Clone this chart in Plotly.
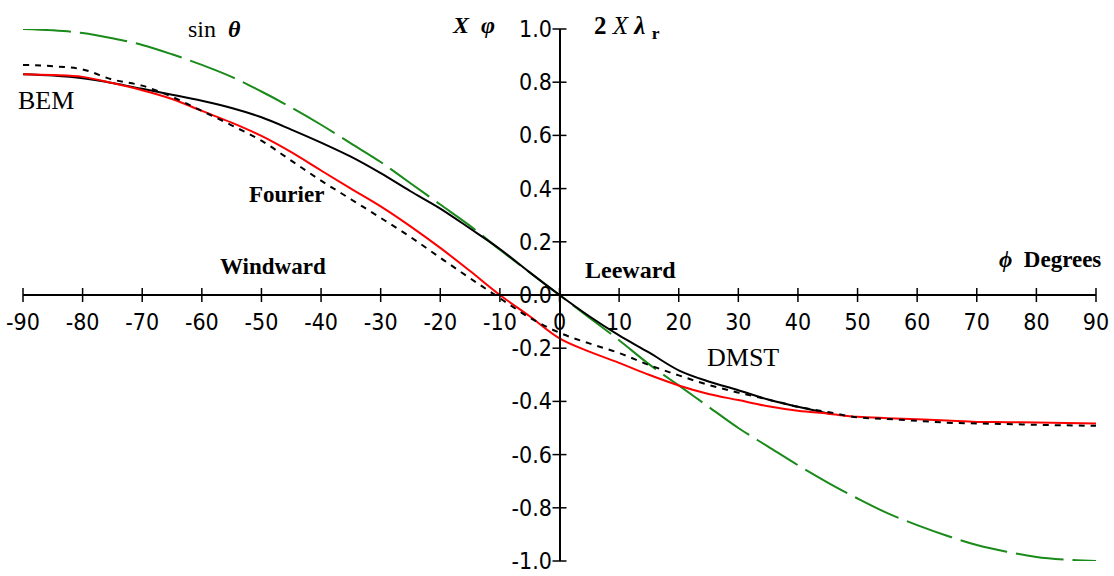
import plotly.graph_objects as go

# ---- data ----
phi = [-90, -85, -80, -75, -70, -65, -60, -55, -50, -45, -40, -35, -30, -25, -20, -15, -10, -5,
       0, 5, 10, 15, 20, 25, 30, 35, 40, 45, 50, 55, 60, 65, 70, 75, 80, 85, 90]

sin_theta = [1.00, 0.995, 0.985, 0.965, 0.94, 0.905, 0.865, 0.82, 0.765, 0.705, 0.64, 0.57, 0.50,
             0.42, 0.34, 0.26, 0.17, 0.085, 0.0, -0.085, -0.17, -0.26, -0.34, -0.42, -0.50, -0.57,
             -0.64, -0.705, -0.765, -0.82, -0.865, -0.905, -0.94, -0.965, -0.985, -0.995, -1.00]

bem = [0.83, 0.827, 0.82, 0.797, 0.77, 0.737, 0.692, 0.648, 0.598, 0.537, 0.468, 0.40, 0.333,
       0.258, 0.177, 0.09, 0.0, -0.08, -0.163, -0.213, -0.255, -0.300, -0.340, -0.372, -0.395,
       -0.418, -0.435, -0.446, -0.458, -0.463, -0.467, -0.472, -0.477, -0.478, -0.479, -0.481, -0.483]

fourier = [0.865, 0.86, 0.848, 0.81, 0.787, 0.745, 0.692, 0.638, 0.58, 0.505, 0.43, 0.36, 0.29,
           0.218, 0.14, 0.063, -0.012, -0.085, -0.142, -0.182, -0.218, -0.263, -0.302, -0.338,
           -0.367, -0.393, -0.42, -0.44, -0.46, -0.466, -0.473, -0.48, -0.483, -0.485, -0.488,
           -0.49, -0.492]

phi_dmst = [-90, -85, -80, -75, -70, -65, -60, -55, -50, -45, -40, -35, -30, -25, -20, -15, -10,
            -5, 0, 5, 10, 15, 20, 25, 30, 35, 40, 45]
dmst = [0.83, 0.825, 0.815, 0.797, 0.775, 0.753, 0.73, 0.703, 0.668, 0.622, 0.573, 0.52, 0.458,
        0.39, 0.325, 0.25, 0.173, 0.085, 0.0, -0.08, -0.152, -0.216, -0.283, -0.325, -0.358,
        -0.393, -0.42, -0.445]

x_ticks = [-90, -80, -70, -60, -50, -40, -30, -20, -10, 0, 10, 20, 30, 40, 50, 60, 70, 80, 90]
y_ticks = [-1.0, -0.8, -0.6, -0.4, -0.2, 0.0, 0.2, 0.4, 0.6, 0.8, 1.0]
x_tick_text = [str(v) for v in x_ticks]
y_tick_text = [f"{v:.1f}" for v in y_ticks]

SERIF = "Liberation Serif, Times New Roman, serif"
NARROW = "DejaVu Sans Condensed, Liberation Sans Narrow, Arial Narrow, sans-serif"

fig = go.Figure()

fig.add_trace(go.Scatter(x=phi, y=sin_theta, mode="lines", line=dict(color="#1a8a1a", width=2, dash="48px,9px", shape="spline"), name="sin θ"))
fig.add_trace(go.Scatter(x=phi_dmst, y=dmst, mode="lines", line=dict(color="black", width=2, shape="spline"), name="DMST"))
fig.add_trace(go.Scatter(x=phi, y=bem, mode="lines", line=dict(color="#ff0000", width=2, shape="spline"), name="BEM"))
fig.add_trace(go.Scatter(x=phi, y=fourier, mode="lines", line=dict(color="black", width=2, dash="6px,6px", shape="spline"), name="Fourier"))

# crossing tick marks
fig.add_trace(go.Scatter(x=x_ticks, y=[0] * len(x_ticks), mode="markers", cliponaxis=False,
                         marker=dict(symbol="line-ns", size=10, line=dict(color="black", width=1.5)),
                         hoverinfo="skip"))
fig.add_trace(go.Scatter(x=[0] * len(y_ticks), y=y_ticks, mode="markers", cliponaxis=False,
                         marker=dict(symbol="line-ew", size=10, line=dict(color="black", width=1.5)),
                         hoverinfo="skip"))

fig.update_layout(
    width=1114, height=576,
    margin=dict(l=23, r=18, t=29, b=15),
    plot_bgcolor="white", paper_bgcolor="white",
    showlegend=False,
    xaxis=dict(range=[-90, 90], anchor="free", position=0.5, showgrid=False, zeroline=False,
               automargin=False,
               showline=True, linecolor="black", linewidth=2,
               tickmode="array", tickvals=x_ticks, ticktext=x_tick_text, ticks="outside", ticklen=6,
               tickcolor="rgba(0,0,0,0)", tickfont=dict(family=NARROW, size=23, color="black")),
    yaxis=dict(range=[-1, 1], anchor="free", position=0.5, showgrid=False, zeroline=False,
               automargin=False,
               showline=True, linecolor="black", linewidth=2,
               tickmode="array", tickvals=y_ticks, ticktext=y_tick_text, ticks="outside", ticklen=2,
               tickcolor="rgba(0,0,0,0)", tickfont=dict(family=NARROW, size=23, color="black")),
)

# text labels: (x in degrees, y in paper fraction of plot height)
ann = [
    dict(x=-57.9, y=1.0, text="sin  <b><i>θ</i></b>", size=24),
    dict(x=-14.4, y=1.008, text="<b><i>X  φ</i></b>", size=24),
    dict(x=11.4, y=1.002, text="<b>2</b> <i>X</i> <b><i>λ</i></b> <sub><b>r</b></sub>", size=25),
    dict(x=-86.2, y=0.866, text="BEM", size=26),
    dict(x=-45.8, y=0.688, text="<b>Fourier</b>", size=23),
    dict(x=-48.0, y=0.553, text="<b>Windward</b>", size=23),
    dict(x=11.9, y=0.547, text="<b>Leeward</b>", size=24),
    dict(x=30.7, y=0.383, text="DMST", size=26),
    dict(x=82.2, y=0.566, text="<b><i>ϕ</i>  Degrees</b>", size=23),
]
for a in ann:
    fig.add_annotation(x=a["x"], y=a["y"], xref="x", yref="paper", text=a["text"], showarrow=False,
                       xanchor="center", yanchor="middle",
                       font=dict(family=SERIF, size=a["size"], color="black"))

fig.write_html("out.html", config={"displayModeBar": False},
               post_script="document.body.style.margin='0px';")
